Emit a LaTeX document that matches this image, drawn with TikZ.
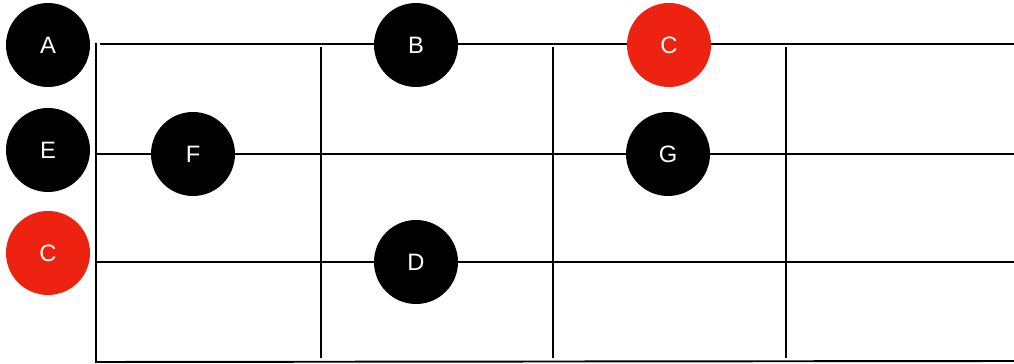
\documentclass[tikz,border=0pt]{standalone}
\usepackage{fontspec}
\setsansfont{Liberation Sans}
\definecolor{notered}{RGB}{238,34,17}

\begin{document}
\begin{tikzpicture}[
	note/.style={circle,fill=black,minimum size=1.68cm,inner sep=0pt,
		text=white,font=\sffamily\fontsize{13.5}{13.5}\selectfont},
	root/.style={note,fill=notered}]

\def\nutX{1.92}
\def\endX{20.28}
\def\fretA{6.42}
\def\fretB{11.06}
\def\fretC{15.72}
\def\strA{-0.88}
\def\strE{-3.08}
\def\strC{-5.24}
\def\baseY{-7.22}
\def\openX{0.96}

\useasboundingbox (0,0) rectangle (\endX,-7.28);

\begin{scope}[line width=1.1pt]
	\draw (\nutX,\strA+0.02) -- (\nutX,\baseY-0.02) -- (\endX,\baseY);
	\draw (\nutX+0.08,\strA) -- (\endX,\strA);
	\draw (\nutX,\strE) -- (\endX,\strE);
	\draw (\nutX,\strC) -- (\endX,\strC);
	\foreach \fx in {\fretA,\fretB,\fretC}
		\draw (\fx,\strA-0.06) -- (\fx,\baseY+0.06);
\end{scope}

% open strings
\node[note] (openA) at (\openX,-0.90) {A};
\node[note] (openE) at (\openX,-3.00) {E};
\node[root] (openC) at (\openX,-5.06) {C};

% fretted notes
\node[note] (noteF) at (3.86,\strE) {F};
\node[note] (noteB) at (8.32,-0.90) {B};
\node[note] (noteD) at (8.32,\strC) {D};
\node[root] (noteC) at (13.38,-0.90) {C};
\node[note] (noteG) at (13.36,\strE) {G};

\end{tikzpicture}
\end{document}
